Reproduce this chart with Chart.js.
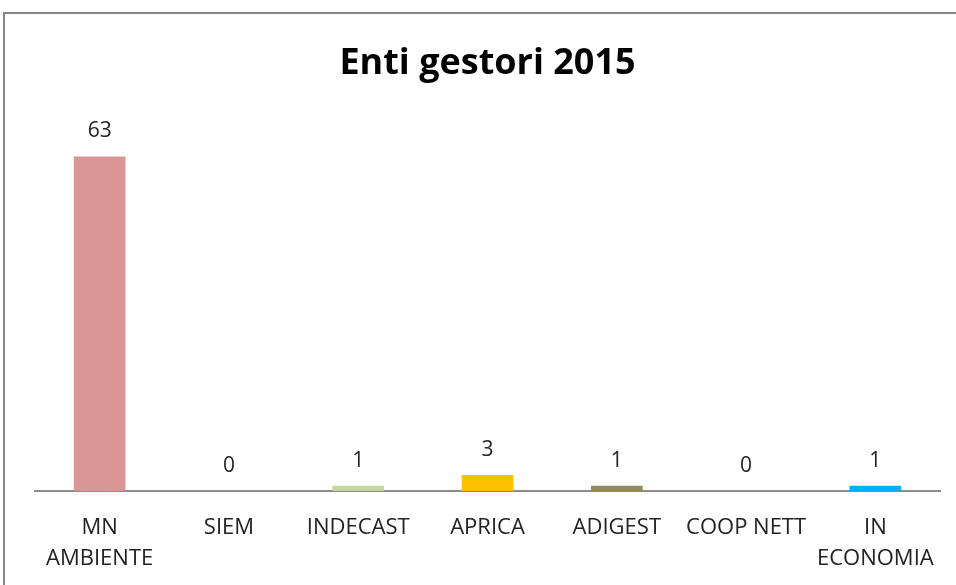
<!DOCTYPE html>
<html>
<head>
<meta charset="utf-8">
<script src="https://cdn.jsdelivr.net/npm/chart.js@4/dist/chart.umd.min.js"></script>
<style>
  html, body { margin: 0; padding: 0; background: #fff; }
  #wrap { position: relative; width: 956px; height: 585px; overflow: hidden; }
  #frame { position: absolute; left: 3px; top: 12px; width: 1100px; height: 800px;
           border-left: 2px solid #868686; border-top: 2px solid #868686; }
  #chart { position: absolute; left: 0; top: 0; }
</style>
</head>
<body>
<div id="wrap">
  <div id="frame"></div>
  <canvas id="chart" width="956" height="585"></canvas>
</div>
<script>
// dati
const categorie = [['MN', 'AMBIENTE'], 'SIEM', 'INDECAST', 'APRICA', 'ADIGEST', 'COOP NETT', ['IN', 'ECONOMIA']];
const valori = [63, 0, 1, 3, 1, 0, 1];
const colori = ['#D99694', '#8EB4E3', '#C3D69B', '#FFC000', '#948A54', '#B3A2C7', '#00B0F0'];

const fontFam = '"Open Sans", sans-serif';

// Etichette dei valori sopra le barre
const etichette = {
    id: 'etichette',
    afterDatasetsDraw(chart) {
        const ctx = chart.ctx;
        const meta = chart.getDatasetMeta(0);
        ctx.save();
        ctx.font = '21px ' + fontFam;
        ctx.fillStyle = '#222';
        ctx.textAlign = 'center';
        ctx.textBaseline = 'middle';
        meta.data.forEach((bar, i) => {
            ctx.fillText(String(valori[i]), bar.x, bar.y - 25);
        });
        ctx.restore();
    }
};

new Chart(document.getElementById('chart'), {
    type: 'bar',
    data: {
        labels: categorie,
        datasets: [{
            label: 'Enti gestori 2015',
            data: valori,
            backgroundColor: colori,
            borderWidth: 0,
            barPercentage: 0.4,
            categoryPercentage: 1
        }]
    },
    options: {
        responsive: false,
        animation: false,
        layout: { padding: { left: 35, right: 16, top: 0, bottom: 0 } },
        plugins: {
            legend: { display: false },
            tooltip: { enabled: false },
            title: {
                display: true,
                text: 'Enti gestori 2015',
                color: '#000',
                font: { family: fontFam, size: 36, weight: 'bold', lineHeight: 1.2 },
                padding: { top: 42, bottom: 34 }
            }
        },
        scales: {
            x: {
                grid: { display: false, drawTicks: false },
                border: { display: true, color: '#8c8c8c', width: 2 },
                afterFit: (scala) => { scala.height = 94; },
                ticks: {
                    color: '#222',
                    padding: 21,
                    maxRotation: 0,
                    autoSkip: false,
                    font: { family: fontFam, size: 22, lineHeight: 1.42 }
                }
            },
            y: {
                display: false,
                min: 0,
                max: 70
            }
        }
    },
    plugins: [etichette]
});
</script>
</body>
</html>
